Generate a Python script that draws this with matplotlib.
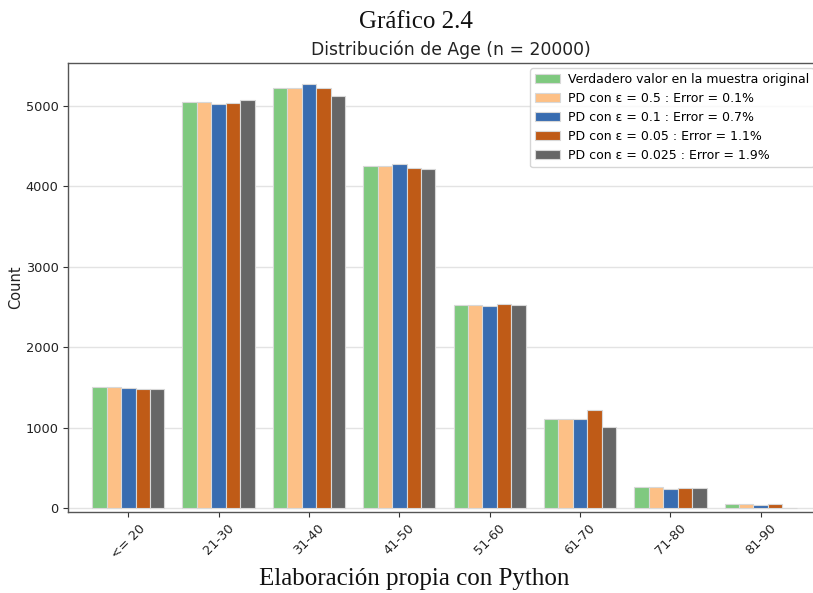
import matplotlib
matplotlib.use("Agg")
import matplotlib.pyplot as plt
import numpy as np

categories = ["<= 20", "21-30", "31-40", "41-50", "51-60", "61-70", "71-80", "81-90"]
original = [1505, 5040, 5222, 4256, 2525, 1105, 261, 57]
pd_05 = [1505, 5040, 5222, 4256, 2525, 1105, 261, 57]
pd_01 = [1490, 5021, 5268, 4277, 2516, 1105, 236, 41]
pd_005 = [1476, 5030, 5220, 4232, 2534, 1217, 252, 50]
pd_0025 = [1480, 5067, 5122, 4215, 2525, 1010, 256, 0]

series = [original, pd_05, pd_01, pd_005, pd_0025]
labels = [
    "Verdadero valor en la muestra original",
    "PD con ε = 0.5 : Error = 0.1%",
    "PD con ε = 0.1 : Error = 0.7%",
    "PD con ε = 0.05 : Error = 1.1%",
    "PD con ε = 0.025 : Error = 1.9%",
]
colors = ["#7fc97f", "#fdc086", "#386cb0", "#bf5b17", "#666666"]

fig = plt.figure(figsize=(8.13, 5.93), dpi=100)
ax = fig.add_axes([0.0840, 0.1366, 0.9406, 0.7572])

x = np.arange(len(categories))
w = 0.16
for i, (vals, lab, col) in enumerate(zip(series, labels, colors)):
    ax.bar(x + (i - 2) * w, vals, width=w, color=col, label=lab,
           edgecolor="#d8d8d8", linewidth=0.8, zorder=3)

ax.set_xlim(-0.664, 7.80)
ax.set_ylim(-46, 5530)
ax.set_yticks([0, 1000, 2000, 3000, 4000, 5000])
ax.set_xticks(x)
ax.set_xticklabels(categories, rotation=45)
ax.yaxis.grid(True, color="#e3e3e3", linewidth=1, zorder=0)
ax.set_axisbelow(True)
for s in ax.spines.values():
    s.set_color("#555555")
    s.set_linewidth(1.0)
ax.tick_params(axis="both", colors="#333333", labelsize=9.3, length=3.5, width=0.8)
ax.tick_params(axis="both", labelcolor="#222222")
ax.set_ylabel("Count", fontsize=10.5, color="#222222", labelpad=2)
ax.set_title("Distribución de Age (n = 20000)", fontsize=12.4, color="#222222", pad=6)

leg = ax.legend(loc="upper left", bbox_to_anchor=(530 / 813, 1 - 68 / 593),
                bbox_transform=fig.transFigure, borderaxespad=0,
                fontsize=9, frameon=True, fancybox=True,
                handlelength=2.0, handletextpad=0.6, labelspacing=0.48)
leg.get_frame().set_edgecolor("#cccccc")

fig.text(0.512, 0.963, "Gráfico 2.4", ha="center", va="center",
         family="Liberation Serif", fontsize=18, color="#111111")
fig.text(0.510, 0.024, "Elaboración propia con Python", ha="center", va="center",
         family="Liberation Serif", fontsize=18, color="#111111")

fig.savefig("out.png", dpi=100)
